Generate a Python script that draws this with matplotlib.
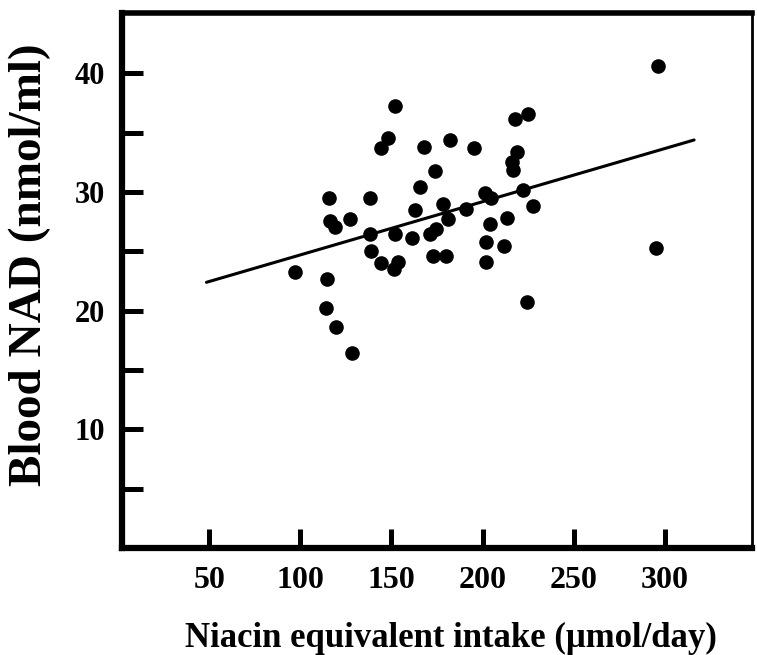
import numpy as np
import matplotlib
matplotlib.use('Agg')
import matplotlib.pyplot as plt

# niacin equivalent intake (umol/day) vs blood NAD (nmol/ml)
intake = [151.8, 148.1, 144.5, 167.9, 181.9, 195.2, 217.8, 225.1, 219.0, 216.0,
          216.5, 173.8, 165.5, 115.5, 138.4, 162.8, 178.4, 181.1, 190.8, 201.3,
          204.4, 222.0, 227.5, 116.1, 118.8, 127.1, 138.1, 152.2, 161.5, 171.0,
          174.7, 204.0, 213.2, 201.8, 211.7, 139.0, 144.5, 151.3, 153.6, 172.9,
          180.2, 201.8, 96.8, 114.6, 114.3, 119.4, 128.5, 224.5, 296.4, 295.3]
nad = [37.3, 34.6, 33.7, 33.8, 34.4, 33.7, 36.2, 36.6, 33.4, 32.5,
       31.9, 31.8, 30.4, 29.5, 29.5, 28.5, 29.0, 27.7, 28.6, 29.9,
       29.5, 30.2, 28.8, 27.6, 27.1, 27.7, 26.5, 26.5, 26.1, 26.5,
       26.9, 27.3, 27.8, 25.8, 25.5, 25.0, 24.0, 23.5, 24.1, 24.6,
       24.6, 24.1, 23.3, 22.7, 20.2, 18.6, 16.4, 20.7, 40.6, 25.3]

# regression line as drawn
line_x = [48.4, 316.2]
intercept = 20.23
slope = 0.0448

xticks = [50, 100, 150, 200, 250, 300]
yticks_major = [10, 20, 30, 40]
yticks_minor = [5, 15, 25, 35]

plt.rcParams['font.family'] = ['Liberation Serif', 'DejaVu Serif']
plt.rcParams['font.weight'] = 'bold'

fig = plt.figure(figsize=(7.57, 6.55), dpi=100)
ax = fig.add_axes([122/757, 1-548/655, 630/757, 535/655])

lx = np.array(line_x)
ax.plot(lx, intercept + slope*lx, color='black', lw=2.2, solid_capstyle='round')
ax.plot(intake, nad, 'o', color='black', markersize=10.5, markeredgewidth=0)

ax.set_xlim(2, 348)
ax.set_ylim(0, 45.1)

ax.set_xticks(xticks)
ax.set_yticks(yticks_major)
ax.set_yticks(yticks_minor, minor=True)

ax.tick_params(axis='x', direction='in', length=14, width=3.6, pad=13, labelsize=23)
ax.tick_params(axis='y', which='major', direction='in', length=15, width=3.6, pad=12, labelsize=22)
ax.tick_params(axis='y', which='minor', direction='in', length=15, width=3.6)
for lab in ax.get_xticklabels() + ax.get_yticklabels():
    lab.set_fontweight('bold')

ax.spines['left'].set_linewidth(4.5)
ax.spines['bottom'].set_linewidth(4.5)
ax.spines['top'].set_linewidth(4.0)
ax.spines['right'].set_linewidth(2.0)

fig.text(30/757, 1-265/655, 'Blood NAD (nmol/ml)', rotation=90, ha='center', va='center',
         fontsize=34, fontweight='bold')
fig.text(451/757, 1-638/655, 'Niacin equivalent intake (\u03bcmol/day)', ha='center', va='center',
         fontsize=25, fontweight='bold')

fig.savefig('out.png', dpi=100)
